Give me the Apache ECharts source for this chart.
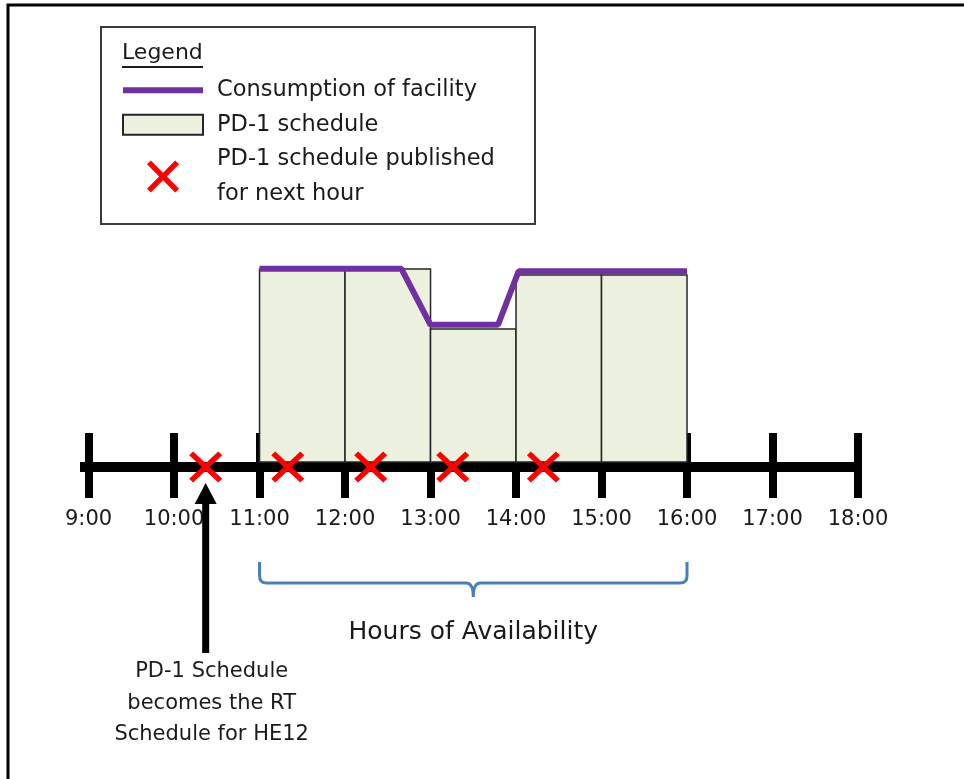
<!DOCTYPE html>
<html>
<head>
<meta charset="utf-8">
<title>PD-1 schedule</title>
<script src="https://cdn.jsdelivr.net/npm/echarts@6/dist/echarts.min.js"></script>
<style>
  html, body { margin: 0; padding: 0; background: #fff; }
  #chart { width: 964px; height: 779px; }
</style>
</head>
<body>
<div id="chart"></div>
<script>
// hours shown on the time line
const hourTicks = [9, 10, 11, 12, 13, 14, 15, 16, 17, 18];
// PD-1 schedule, one block per hour (start hour, MW)
const scheduleHour = [11, 12, 13, 14, 15];
const scheduleMW = [96.5, 96.5, 66.5, 93.5, 93.5];
// consumption of facility
const consumptionHour = [11, 12.66, 13.0, 13.79, 14.03, 16];
const consumptionMW = [96.6, 96.6, 68.6, 68.6, 95.4, 95.4];
// when the PD-1 schedule for the next hour gets published
const publishHour = [10.37, 11.33, 12.3, 13.26, 14.32];
// hours of availability (the bracket)
const availHours = [11, 16];

const yMin = -2.5, yMax = 100;
const font = 'DejaVu Sans';
const textColor = '#1a1a1a';
const crossPath = 'path://M0,1.2L1.2,0L5,3.8L8.8,0L10,1.2L6.2,5L10,8.8L8.8,10L5,6.2L1.2,10L0,8.8L3.8,5Z';

const chart = echarts.init(document.getElementById('chart'));

// arrow + note under the first publish mark, bracket for availability
function renderNotes(params, api) {
  const base = api.coord([api.value(0), yMin]);
  const y0 = base[1];
  if (params.dataIndex === 0) {
    const x = base[0];
    return {
      type: 'group',
      children: [
        { type: 'rect', shape: { x: x - 3.5, y: y0 + 34, width: 7, height: 152 }, style: { fill: '#000' } },
        { type: 'polygon', shape: { points: [[x, y0 + 16], [x - 11, y0 + 37], [x + 11, y0 + 37]] }, style: { fill: '#000' } },
        {
          type: 'text', x: x + 6, y: y0 + 189,
          style: {
            text: 'PD-1 Schedule\nbecomes the RT\nSchedule for HE12',
            font: '21px "DejaVu Sans"', fill: textColor,
            align: 'center', verticalAlign: 'top', lineHeight: 31.5
          }
        }
      ]
    };
  }
  const x1 = base[0];
  const x2 = api.coord([api.value(1), yMin])[0];
  const xm = (x1 + x2) / 2;
  const top = y0 + 95, mid = y0 + 116, tip = y0 + 130, r = 7;
  const d = 'M' + x1 + ',' + top + ' L' + x1 + ',' + (mid - r) +
    ' Q' + x1 + ',' + mid + ' ' + (x1 + r) + ',' + mid +
    ' L' + (xm - r) + ',' + mid + ' Q' + xm + ',' + mid + ' ' + xm + ',' + tip +
    ' Q' + xm + ',' + mid + ' ' + (xm + r) + ',' + mid +
    ' L' + (x2 - r) + ',' + mid + ' Q' + x2 + ',' + mid + ' ' + x2 + ',' + (mid - r) +
    ' L' + x2 + ',' + top;
  return {
    type: 'group',
    children: [
      { type: 'path', shape: { pathData: d }, style: { fill: 'none', stroke: '#4A7EBB', lineWidth: 3 } },
      {
        type: 'text', x: xm, y: y0 + 165,
        style: {
          text: 'Hours of Availability', font: '25px "DejaVu Sans"', fill: textColor,
          align: 'center', verticalAlign: 'middle'
        }
      }
    ]
  };
}

const option = {
  animation: false,
  backgroundColor: '#fff',
  grid: { left: 80, right: 106, top: 262, bottom: 312 },
  legend: {
    left: 122, top: 73, orient: 'vertical', padding: 0, itemGap: 0,
    itemWidth: 80, itemHeight: 32, selectedMode: false,
    itemStyle: { borderWidth: 0 },
    textStyle: { fontFamily: font, fontSize: 22.5, color: textColor, lineHeight: 34.5, padding: [0, 0, 0, 9] },
    formatter: function (name) { return name.replace(' for ', '\nfor '); },
    data: [
      { name: 'Consumption of facility', icon: 'path://M0,0H80V6H0Z', itemStyle: { color: '#7030A0', borderWidth: 0 } },
      { name: 'PD-1 schedule', icon: 'path://M0,0H80V20H0Z', itemStyle: { color: '#EBF1DE', borderColor: '#262626', borderWidth: 2 } },
      { name: 'PD-1 schedule published for next hour', icon: crossPath, itemStyle: { color: '#FF0000', borderWidth: 0, opacity: 1 } }
    ]
  },
  graphic: [
    { type: 'polyline', silent: true, shape: { points: [[8, 779], [8, 5], [964, 5]] }, style: { stroke: '#000', lineWidth: 3, fill: null } },
    { type: 'rect', silent: true, shape: { x: 101, y: 27, width: 434, height: 197 }, style: { fill: 'none', stroke: '#3a3a3a', lineWidth: 2 } },
    { type: 'text', silent: true, x: 122, y: 53, style: { text: 'Legend', font: '22px "DejaVu Sans"', fill: textColor, verticalAlign: 'middle' } },
    { type: 'line', silent: true, shape: { x1: 122, y1: 67, x2: 203, y2: 67 }, style: { stroke: textColor, lineWidth: 2 } }
  ],
  xAxis: [
    {
      type: 'value', min: 8.9, max: 18, position: 'bottom',
      splitLine: { show: false },
      axisLine: { onZero: false, lineStyle: { color: '#000', width: 10, cap: 'butt' } },
      axisTick: { inside: true, length: 34, customValues: hourTicks, lineStyle: { color: '#000', width: 8, cap: 'butt' } },
      axisLabel: { show: false }
    },
    {
      type: 'value', min: 8.9, max: 18, position: 'bottom',
      splitLine: { show: false },
      axisLine: { onZero: false, show: false },
      axisTick: { length: 31, customValues: hourTicks, lineStyle: { color: '#000', width: 8, cap: 'butt' } },
      axisLabel: {
        customValues: hourTicks, margin: 42, showMinLabel: true, showMaxLabel: true,
        formatter: function (v) { return v + ':00'; },
        fontFamily: font, fontSize: 21, color: textColor
      }
    }
  ],
  yAxis: { type: 'value', min: yMin, max: yMax, show: false, splitLine: { show: false } },
  series: [
    {
      name: 'PD-1 schedule',
      type: 'custom',
      z: 2,
      encode: { x: [0, 1], y: 2 },
      data: scheduleHour.map((h, i) => [h, h + 1, scheduleMW[i]]),
      itemStyle: { color: '#EBF1DE' },
      renderItem: function (params, api) {
        const p0 = api.coord([api.value(0), api.value(2)]);
        const p1 = api.coord([api.value(1), 0]);
        return {
          type: 'rect',
          shape: { x: p0[0], y: p0[1], width: p1[0] - p0[0], height: p1[1] - p0[1] },
          style: { fill: '#EBF1DE', stroke: '#262626', lineWidth: 1.5 }
        };
      }
    },
    {
      name: 'Consumption of facility',
      type: 'line',
      z: 3,
      clip: false,
      symbol: 'none',
      data: consumptionHour.map((h, i) => [h, consumptionMW[i]]),
      lineStyle: { color: '#7030A0', width: 6 },
      itemStyle: { color: '#7030A0' }
    },
    {
      name: 'PD-1 schedule published for next hour',
      type: 'scatter',
      z: 4,
      clip: false,
      symbol: crossPath,
      symbolSize: [33, 31],
      itemStyle: { color: '#FF0000', opacity: 1 },
      data: publishHour.map(h => [h, yMin])
    },
    {
      type: 'custom',
      z: 1,
      silent: true,
      clip: false,
      data: [[publishHour[0], publishHour[0]], availHours],
      renderItem: renderNotes
    }
  ]
};

chart.setOption(option);
</script>
</body>
</html>
